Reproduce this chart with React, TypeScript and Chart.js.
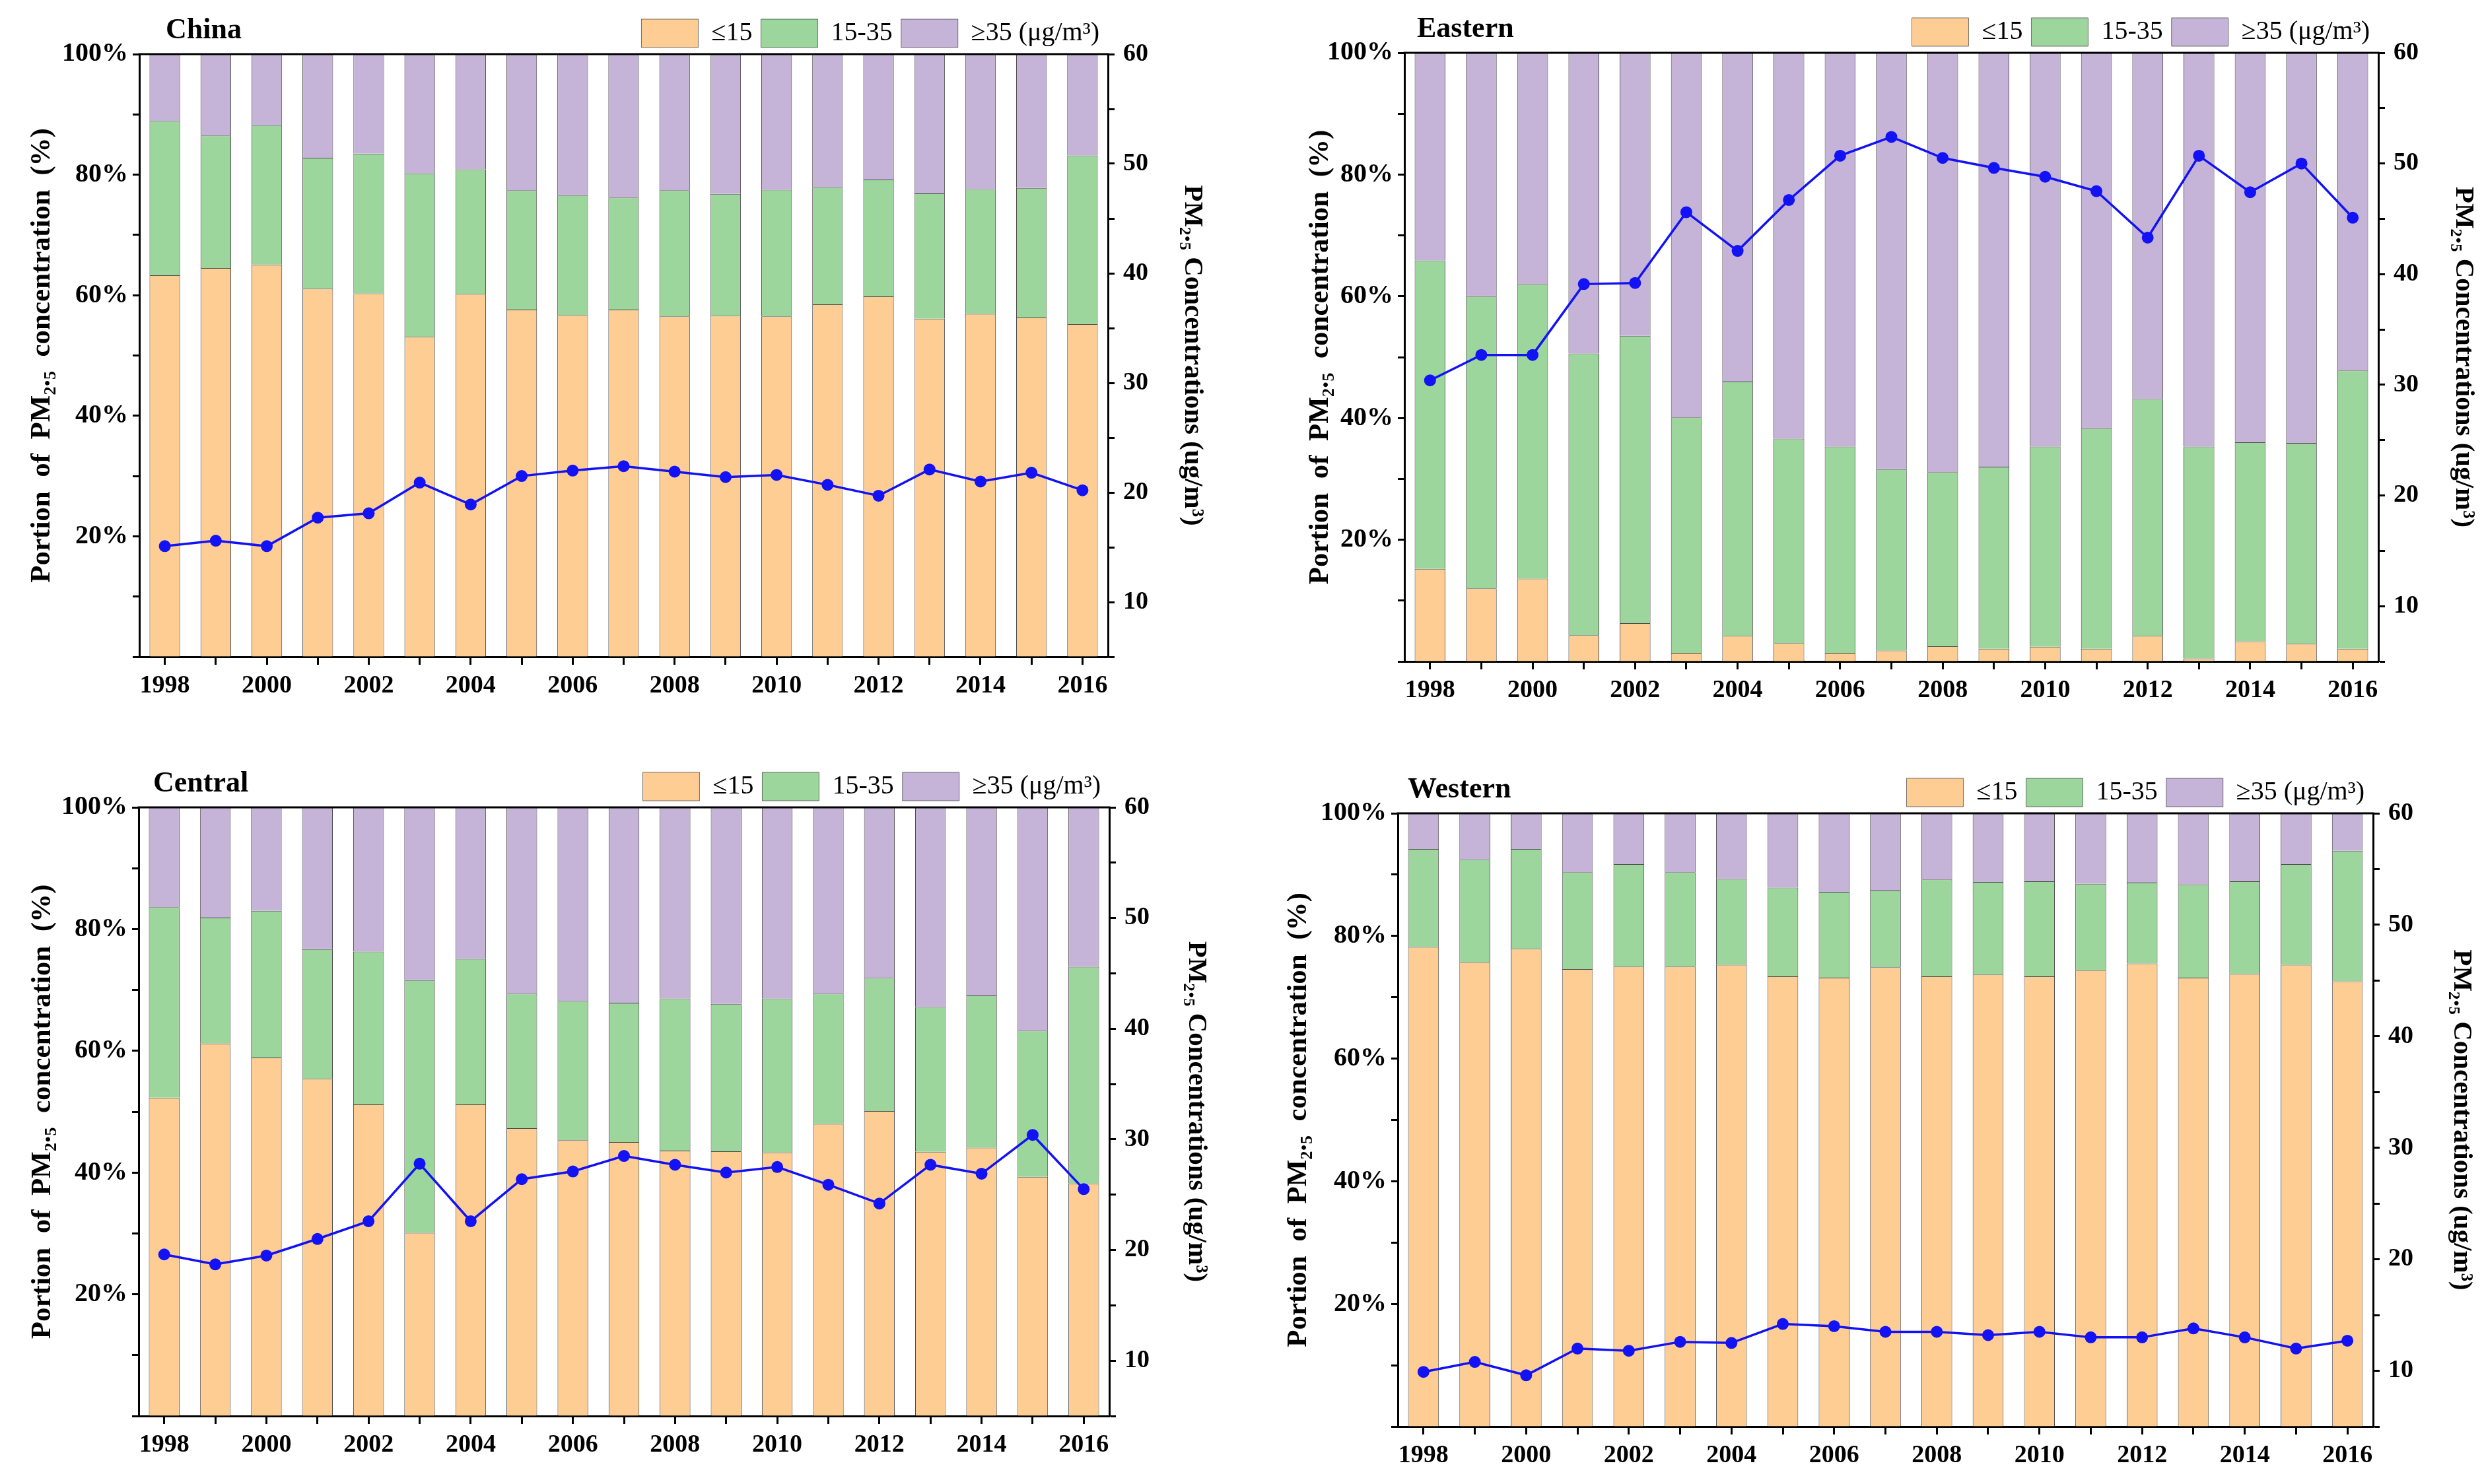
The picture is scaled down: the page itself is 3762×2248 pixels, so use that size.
import React, { useEffect, useRef } from 'react';
import { Chart, registerables } from 'chart.js';

Chart.register(...registerables);

// ---------------- data ----------------
const years = [1998, 1999, 2000, 2001, 2002, 2003, 2004, 2005, 2006, 2007, 2008, 2009, 2010, 2011, 2012, 2013, 2014, 2015, 2016];
const legendLabels = ['≤15', '15-35', '≥35 (μg/m³)'];
const panelNames = ['China', 'Eastern', 'Central', 'Western'];

// share of area (%) in each concentration class, stacked bottom→top
const chinaLow = [63.3, 64.5, 65.1, 61.1, 60.3, 53.1, 60.2, 57.6, 56.7, 57.6, 56.5, 56.6, 56.5, 58.5, 59.8, 56.1, 56.9, 56.3, 55.2];
const chinaMid = [25.6, 22.0, 23.1, 21.7, 23.2, 27.1, 20.7, 19.8, 19.9, 18.6, 20.9, 20.2, 21.0, 19.4, 19.4, 20.8, 20.7, 21.5, 28.0];
const chinaHigh = [11.1, 13.5, 11.8, 17.2, 16.5, 19.8, 19.1, 22.6, 23.4, 23.8, 22.6, 23.2, 22.5, 22.1, 20.8, 23.1, 22.4, 22.2, 16.8];
const chinaConc = [15.1, 15.6, 15.1, 17.7, 18.1, 20.9, 18.9, 21.5, 22.0, 22.4, 21.9, 21.4, 21.6, 20.7, 19.7, 22.1, 21.0, 21.8, 20.2];

const easternLow = [15.2, 12.0, 13.6, 4.3, 6.3, 1.4, 4.2, 3.0, 1.4, 1.8, 2.5, 2.1, 2.4, 2.1, 4.2, 0.5, 3.3, 2.9, 2.1];
const easternMid = [50.7, 48.0, 48.4, 46.3, 47.2, 38.7, 41.8, 33.6, 33.9, 29.8, 28.6, 29.9, 32.9, 36.2, 38.9, 34.8, 32.7, 33.0, 45.7];
const easternHigh = [34.1, 40.0, 38.0, 49.4, 46.5, 59.9, 54.0, 63.4, 64.7, 68.4, 68.9, 68.0, 64.7, 61.7, 56.9, 64.7, 64.0, 64.1, 52.2];
const easternConc = [30.4, 32.7, 32.7, 39.1, 39.2, 45.6, 42.1, 46.7, 50.7, 52.4, 50.5, 49.6, 48.8, 47.5, 43.3, 50.7, 47.4, 50.0, 45.1];

const centralLow = [52.3, 61.2, 58.9, 55.4, 51.2, 30.1, 51.2, 47.3, 45.3, 45.0, 43.6, 43.5, 43.3, 48.0, 50.1, 43.4, 44.1, 39.3, 38.2];
const centralMid = [31.3, 20.7, 24.1, 21.3, 25.1, 41.5, 23.9, 22.1, 22.9, 22.9, 25.0, 24.2, 25.3, 21.4, 21.9, 23.8, 25.0, 24.0, 35.6];
const centralHigh = [16.4, 18.1, 17.0, 23.3, 23.7, 28.4, 24.9, 30.6, 31.8, 32.1, 31.4, 32.3, 31.4, 30.6, 28.0, 32.8, 30.9, 36.7, 26.2];
const centralConc = [19.6, 18.7, 19.5, 21.0, 22.6, 27.8, 22.6, 26.4, 27.1, 28.5, 27.7, 27.0, 27.5, 25.9, 24.2, 27.7, 26.9, 30.4, 25.5];

const westernLow = [78.2, 75.7, 77.9, 74.6, 75.0, 75.0, 75.3, 73.4, 73.2, 74.9, 73.4, 73.7, 73.4, 74.4, 75.5, 73.2, 73.8, 75.3, 72.6];
const westernMid = [16.0, 16.8, 16.3, 15.8, 16.7, 15.4, 14.0, 14.5, 14.0, 12.5, 15.8, 15.1, 15.5, 14.1, 13.2, 15.2, 15.1, 16.4, 21.3];
const westernHigh = [5.8, 7.5, 5.8, 9.6, 8.3, 9.6, 10.7, 12.1, 12.8, 12.6, 10.8, 11.2, 11.1, 11.5, 11.3, 11.6, 11.1, 8.3, 6.1];
const westernConc = [9.9, 10.8, 9.6, 12.0, 11.8, 12.6, 12.5, 14.2, 14.0, 13.5, 13.5, 13.2, 13.5, 13.0, 13.0, 13.8, 13.0, 12.0, 12.7];

const leftAxisTitle = 'Portion  of  PM₂.₅  concentration  (%)';
const rightAxisTitle = 'PM₂.₅ Concentrations (ug/m³)';

// ---------------- style ----------------
const FONT = "'Liberation Serif', 'Times New Roman', Times, serif";
const ORANGE = 'rgb(253,205,148)';
const GREEN = 'rgb(156,214,156)';
const PURPLE = 'rgb(197,180,216)';
const BLUE = 'rgb(18,18,245)';
const EDGE = 'rgba(45,45,45,0.85)';

type Layout = {
  x: number; y: number; w: number; h: number;
  padTop: number; leftW: number; rightW: number; xH: number;
  titleDx: number; leftTitlePad: number; rightTitlePad: number;
};

const layouts: Layout[] = [
  { x: 0, y: 0, w: 1881, h: 1124, padTop: 16, leftW: 211, rightW: 203, xH: 129, titleDx: 40, leftTitlePad: 38, rightTitlePad: 51 },
  { x: 1881, y: 0, w: 1881, h: 1124, padTop: 14, leftW: 246, rightW: 160, xH: 122, titleDx: 19, leftTitlePad: 93, rightTitlePad: 7 },
  { x: 0, y: 1124, w: 1881, h: 1124, padTop: 33, leftW: 210, rightW: 201, xH: 103, titleDx: 22, leftTitlePad: 39, rightTitlePad: 45 },
  { x: 1881, y: 1124, w: 1881, h: 1124, padTop: 42, leftW: 236, rightW: 168, xH: 87, titleDx: 15, leftTitlePad: 60, rightTitlePad: 10 },
];

const decorPlugin = {
  id: 'panelDecor',
  afterDraw(chart: any, _args: any, opts: any) {
    const { ctx, chartArea: a } = chart;
    ctx.save();
    ctx.strokeStyle = '#000';
    ctx.lineWidth = 3;
    ctx.beginPath();
    ctx.moveTo(a.left - 1.5, a.top);
    ctx.lineTo(a.right + 1.5, a.top);
    ctx.stroke();
    ctx.font = `bold 44px ${FONT}`;
    ctx.fillStyle = '#000';
    ctx.textAlign = 'left';
    ctx.textBaseline = 'alphabetic';
    ctx.fillText(opts.text, a.left + opts.dx, a.top - 24);
    ctx.restore();
  },
};

type PanelProps = { name: string; low: number[]; mid: number[]; high: number[]; conc: number[]; layout: Layout };

function Panel({ name, low, mid, high, conc, layout }: PanelProps) {
  const ref = useRef<HTMLCanvasElement | null>(null);
  useEffect(() => {
    if (!ref.current) return;
    const L = layout;
    const tickFont = (size: number) => ({ family: FONT, size, weight: 'bold' as const });
    const barBorder = { top: 1, left: 1, right: 1, bottom: 0 };
    const chart = new Chart(ref.current, {
      type: 'bar',
      data: {
        labels: years.map(String),
        datasets: [
          { type: 'bar', label: legendLabels[0], data: low, backgroundColor: ORANGE, borderColor: EDGE, borderWidth: barBorder, yAxisID: 'y', order: 1 },
          { type: 'bar', label: legendLabels[1], data: mid, backgroundColor: GREEN, borderColor: EDGE, borderWidth: barBorder, yAxisID: 'y', order: 1 },
          { type: 'bar', label: legendLabels[2], data: high, backgroundColor: PURPLE, borderColor: EDGE, borderWidth: barBorder, yAxisID: 'y', order: 1 },
          {
            type: 'line', label: 'PM2.5', data: conc, yAxisID: 'y2', order: 0,
            borderColor: BLUE, backgroundColor: BLUE, borderWidth: 3.5,
            pointRadius: 9, pointHoverRadius: 9, pointBackgroundColor: BLUE, pointBorderWidth: 0,
            tension: 0,
          },
        ] as any,
      },
      options: {
        responsive: false,
        animation: false,
        devicePixelRatio: 1,
        layout: { padding: { top: L.padTop, left: 0, right: 0, bottom: 0 } },
        datasets: { bar: { categoryPercentage: 1, barPercentage: 0.6 } } as any,
        plugins: {
          tooltip: { enabled: false },
          title: { display: false },
          legend: {
            display: true,
            position: 'top',
            align: 'end',
            fullSize: false,
            labels: {
              boxWidth: 86,
              boxHeight: 43,
              padding: 13,
              color: '#000',
              font: { family: FONT, size: 40 },
              filter: (item: any) => item.datasetIndex < 3,
            },
          },
          panelDecor: { text: name, dx: L.titleDx },
        } as any,
        scales: {
          x: {
            type: 'category',
            stacked: true,
            offset: true,
            grid: { display: true, offset: false, drawOnChartArea: false, drawTicks: true, tickLength: 12, tickWidth: 3, color: '#000' },
            border: { display: true, width: 3, color: '#000' },
            ticks: {
              autoSkip: false, maxRotation: 0, minRotation: 0, padding: 9, color: '#000', font: tickFont(38),
              callback: (_v: any, i: number) => (i % 2 === 0 ? String(years[i]) : ''),
            },
            afterFit: (s: any) => { s.height = L.xH; },
          },
          y: {
            type: 'linear',
            position: 'left',
            stacked: true,
            min: 0,
            max: 100,
            grid: { display: true, drawOnChartArea: false, drawTicks: true, tickLength: 10, tickWidth: 3, color: '#000' },
            border: { display: true, width: 3, color: '#000' },
            ticks: {
              stepSize: 10, autoSkip: false, padding: 7, color: '#000', font: tickFont(40),
              callback: (v: any) => (Number(v) % 20 === 0 && Number(v) > 0 ? `${v}%` : ''),
            },
            title: {
              display: true, text: leftAxisTitle, color: '#000',
              font: { family: FONT, size: 43, weight: 'bold' },
              padding: { top: L.leftTitlePad, bottom: 0 },
            },
            afterFit: (s: any) => { s.width = L.leftW; },
          },
          y2: {
            type: 'linear',
            position: 'right',
            min: 5,
            max: 60,
            grid: { display: true, drawOnChartArea: false, drawTicks: true, tickLength: 10, tickWidth: 3, color: '#000' },
            border: { display: true, width: 3, color: '#000' },
            ticks: {
              stepSize: 5, autoSkip: false, padding: 13, color: '#000', font: tickFont(38),
              callback: (v: any) => (Number(v) % 10 === 0 ? String(v) : ''),
            },
            title: {
              display: true, text: rightAxisTitle, color: '#000',
              font: { family: FONT, size: 41, weight: 'bold' },
              padding: { top: L.rightTitlePad, bottom: 0 },
            },
            afterFit: (s: any) => { s.width = L.rightW; },
          },
        } as any,
      },
      plugins: [decorPlugin as any],
    });
    return () => chart.destroy();
  }, [name, low, mid, high, conc, layout]);

  return (
    <div style={{ position: 'absolute', left: layout.x, top: layout.y, width: layout.w, height: layout.h }}>
      <canvas ref={ref} width={layout.w} height={layout.h} style={{ width: layout.w, height: layout.h, display: 'block' }} />
    </div>
  );
}

export default function App() {
  return (
    <div style={{ position: 'absolute', left: 0, top: 0, width: 3762, height: 2248, background: '#fff', overflow: 'hidden' }}>
      <Panel name={panelNames[0]} low={chinaLow} mid={chinaMid} high={chinaHigh} conc={chinaConc} layout={layouts[0]} />
      <Panel name={panelNames[1]} low={easternLow} mid={easternMid} high={easternHigh} conc={easternConc} layout={layouts[1]} />
      <Panel name={panelNames[2]} low={centralLow} mid={centralMid} high={centralHigh} conc={centralConc} layout={layouts[2]} />
      <Panel name={panelNames[3]} low={westernLow} mid={westernMid} high={westernHigh} conc={westernConc} layout={layouts[3]} />
    </div>
  );
}
